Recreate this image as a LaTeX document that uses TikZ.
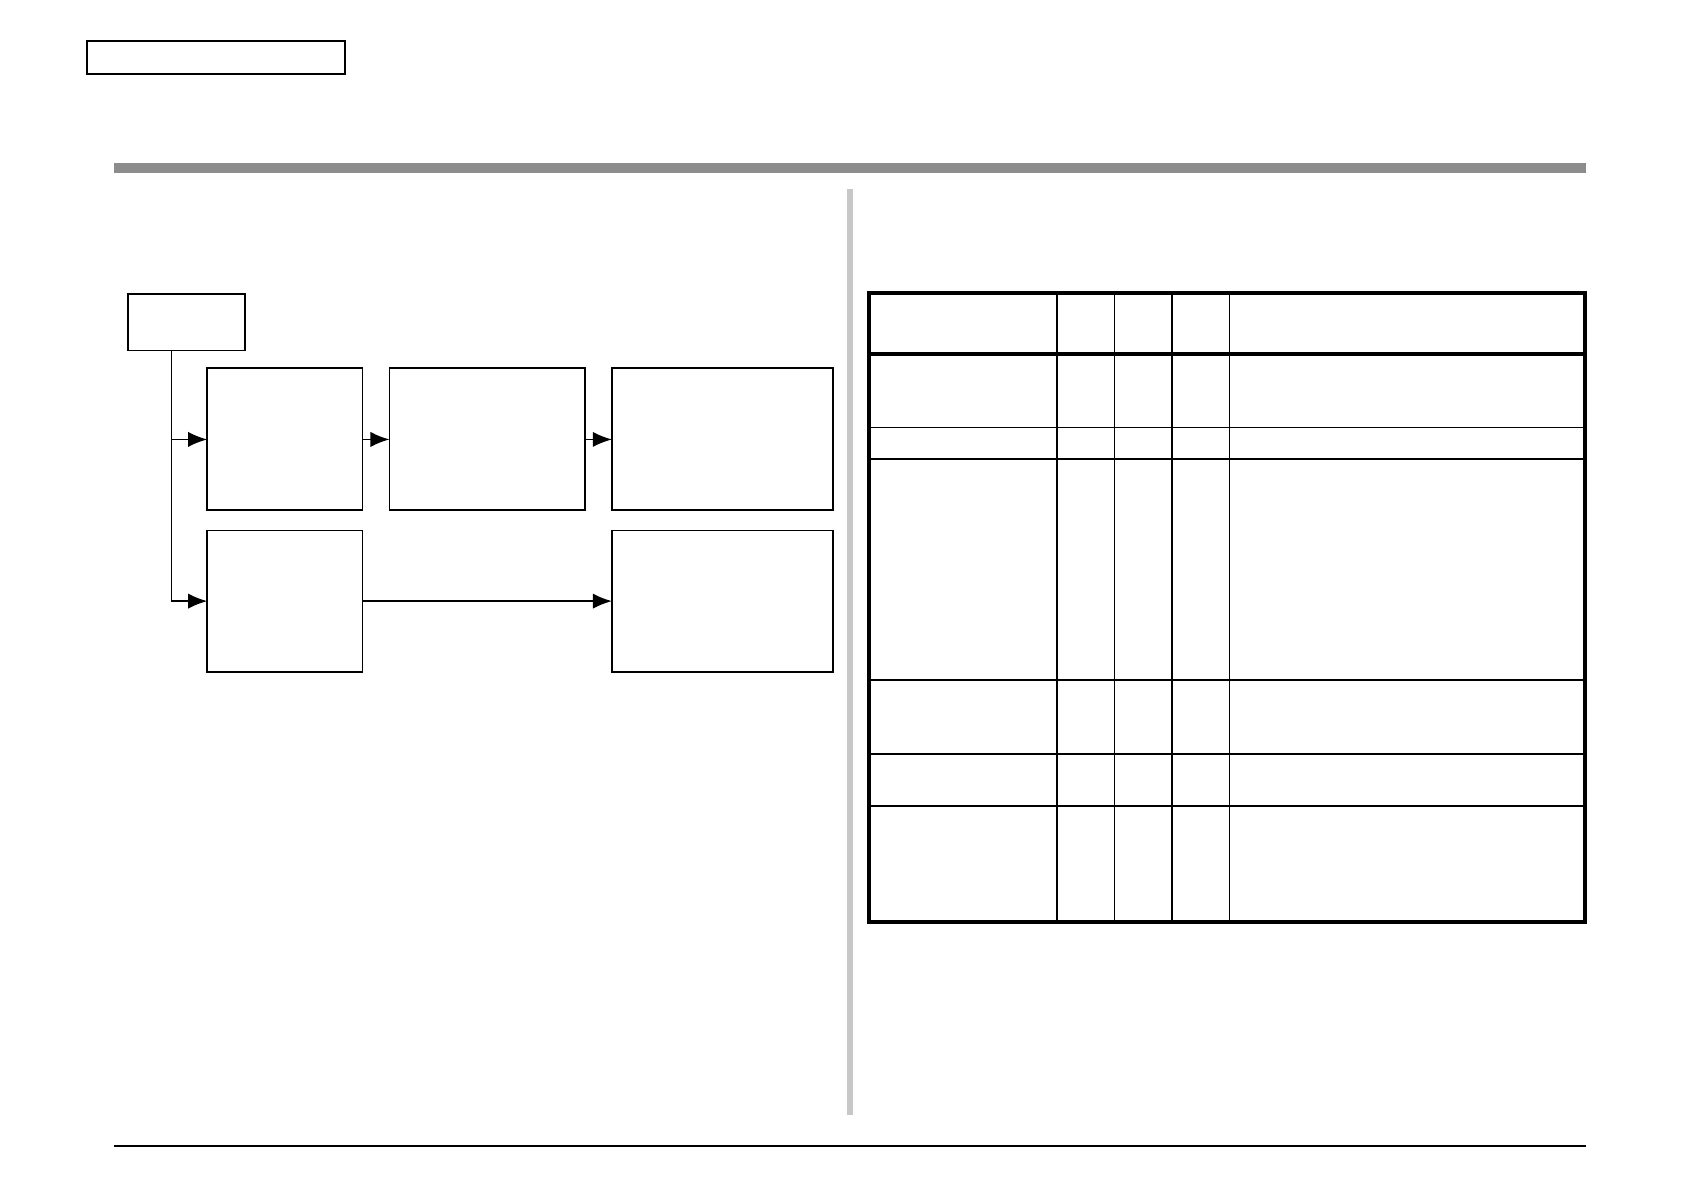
\documentclass[tikz,border=0pt]{standalone}
\usetikzlibrary{arrows.meta}
\begin{document}
\begin{tikzpicture}[x=0.01cm,y=-0.01cm,
  ln/.style={line width=0.45pt},
  arr/.style={-{Latex[length=5pt,width=4pt]},line width=0.45pt}]
\useasboundingbox (0,0) rectangle (1552,1098);
\fill[white] (0,0) rectangle (1552,1098);
\draw[ln] (80,38) rectangle (318,68);
\fill[black!45] (105,150) rectangle (1462,159);
\fill[black!22] (781,174) rectangle (786,1028);
\draw[line width=0.4pt] (105,1056) -- (1462,1056);
% flow
\path (118,271) coordinate (s1) (226,323) coordinate (s2)
      (191,339) coordinate (a1) (334,470) coordinate (a2)
      (359,339) coordinate (b1) (539,470) coordinate (b2)
      (564,339) coordinate (c1) (768,470) coordinate (c2)
      (191,489) coordinate (d1) (334,619) coordinate (d2)
      (564,489) coordinate (e1) (768,619) coordinate (e2);
\foreach \p in {s,a,b,c,d,e}{\draw[ln] (\p1) rectangle (\p2);}
\coordinate (t0) at (158,323);
\coordinate (ta) at (158,405);
\coordinate (td) at (158,554);
\draw[ln] (t0) -- (td);
\draw[arr] (ta) -- (191,405);
\draw[arr] (td) -- (191,554);
\draw[arr] (334,405) -- (359,405);
\draw[arr] (539,405) -- (564,405);
\draw[arr] (334,554) -- (564,554);
% table
\draw[line width=1.1pt] (801,270) rectangle (1461,850);
\draw[line width=1pt] (801,326) -- (1461,326);
\foreach \y in {394,423,627,695,743}{\draw[ln] (801,\y) -- (1461,\y);}
\foreach \x in {974,1027,1080,1133}{\draw[ln] (\x,270) -- (\x,850);}
\end{tikzpicture}
\end{document}
